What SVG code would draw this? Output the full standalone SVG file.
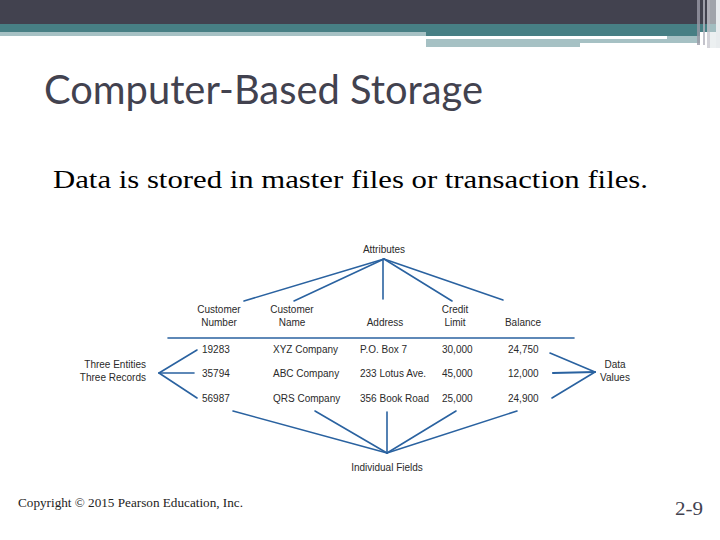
<svg xmlns="http://www.w3.org/2000/svg" width="720" height="540" viewBox="0 0 720 540">
<style>
.t{font-family:"Liberation Sans",Arial,sans-serif;font-size:10px;fill:#2a2a2a}
.m{text-anchor:middle}
.e{text-anchor:end}
.c{stroke:#2a62a0;stroke-width:1.6;fill:none;stroke-linecap:round}
.ck{stroke:#2a62a0;stroke-width:2.2;fill:none;stroke-linecap:round}
</style>
<rect width="720" height="540" fill="#ffffff"/>
<g id="header">
<rect x="0" y="0" width="720" height="24" fill="#42424f"/>
<rect x="0" y="24" width="720" height="8" fill="#477f84"/>
<rect x="0" y="32" width="426" height="4" fill="#a6c1c4"/>
<rect x="426" y="32" width="274" height="4" fill="#477f84"/>
<rect x="426" y="39" width="241" height="4" fill="#a6c1c4"/>
<rect x="426" y="43" width="154" height="4" fill="#a6c1c4"/>
<rect x="667" y="36" width="33" height="7" fill="#a6c1c4"/>
<rect x="697" y="0" width="3" height="45" fill="#9a9aa6" opacity="0.8"/>
<rect x="703" y="0" width="2" height="45" fill="#b4b4be" opacity="0.8"/>
<rect x="707" y="0" width="3" height="48" fill="#c8c8d0" opacity="0.8"/>
<rect x="710" y="0" width="10" height="48" fill="#dfe6e8" opacity="0.6"/>
<rect x="716" y="0" width="4" height="48" fill="#e8ecee"/>
</g>
<text id="title" x="44" y="104" font-family="Lato,'Open Sans',sans-serif" font-size="40" fill="#42424f" textLength="439" lengthAdjust="spacingAndGlyphs">Computer-Based Storage</text>
<text id="subtitle" x="53" y="188" font-family="'Liberation Serif','Times New Roman',serif" font-size="26" fill="#000" textLength="595" lengthAdjust="spacingAndGlyphs">Data is stored in master files or transaction files.</text>
<g id="connectors">
<line class="c" x1="384" y1="259" x2="244" y2="301"/>
<line class="c" x1="384" y1="259" x2="294" y2="301"/>
<line class="c" x1="383" y1="259" x2="383" y2="299"/>
<line class="c" x1="384" y1="259" x2="452" y2="301"/>
<line class="c" x1="384" y1="259" x2="503" y2="300"/>
<line class="c" x1="168" y1="338" x2="574" y2="338"/>
<line class="c" x1="159" y1="373" x2="197" y2="350"/>
<line class="c" x1="159" y1="373" x2="194" y2="373"/>
<line class="c" x1="159" y1="373" x2="197" y2="398"/>
<line class="c" x1="595" y1="372" x2="550" y2="353"/>
<line class="ck" x1="595" y1="372" x2="553" y2="373"/>
<line class="c" x1="595" y1="372" x2="552" y2="398"/>
<line class="c" x1="387" y1="453" x2="233" y2="411"/>
<line class="c" x1="387" y1="453" x2="315" y2="411"/>
<line class="c" x1="387" y1="453" x2="387" y2="412"/>
<line class="c" x1="387" y1="453" x2="456" y2="411"/>
<line class="c" x1="387" y1="453" x2="517" y2="411"/>
</g>
<g id="attributes"><text class="t m" x="384" y="253">Attributes</text></g>
<g id="col-number"><text class="t m" x="219" y="313">Customer</text><text class="t m" x="219" y="326">Number</text></g>
<g id="col-name"><text class="t m" x="292" y="313">Customer</text><text class="t m" x="292" y="326">Name</text></g>
<g id="col-address"><text class="t m" x="385" y="326">Address</text></g>
<g id="col-credit"><text class="t m" x="455" y="313">Credit</text><text class="t m" x="455" y="326">Limit</text></g>
<g id="col-balance"><text class="t m" x="523" y="326">Balance</text></g>
<g id="row1"><text class="t" x="202" y="353">19283</text><text class="t" x="273" y="353">XYZ Company</text><text class="t" x="360" y="353">P.O. Box 7</text><text class="t" x="442" y="353">30,000</text><text class="t" x="508" y="353">24,750</text></g>
<g id="row2"><text class="t" x="202" y="377">35794</text><text class="t" x="273" y="377">ABC Company</text><text class="t" x="360" y="377">233 Lotus Ave.</text><text class="t" x="442" y="377">45,000</text><text class="t" x="508" y="377">12,000</text></g>
<g id="row3"><text class="t" x="202" y="402">56987</text><text class="t" x="273" y="402">QRS Company</text><text class="t" x="360" y="402">356 Book Road</text><text class="t" x="442" y="402">25,000</text><text class="t" x="508" y="402">24,900</text></g>
<g id="entities"><text class="t e" x="146" y="368">Three Entities</text><text class="t e" x="146" y="381">Three Records</text></g>
<g id="data-values"><text class="t m" x="615" y="368">Data</text><text class="t m" x="615" y="381">Values</text></g>
<g id="individual-fields"><text class="t m" x="387" y="471">Individual Fields</text></g>
<text id="copyright" x="18" y="507" font-family="'Liberation Serif','Times New Roman',serif" font-size="13" fill="#222" textLength="225" lengthAdjust="spacingAndGlyphs">Copyright © 2015 Pearson Education, Inc.</text>
<text id="page" x="675" y="515" font-family="'Liberation Serif','Times New Roman',serif" font-size="18" fill="#42424f" textLength="28" lengthAdjust="spacingAndGlyphs">2-9</text>
</svg>
